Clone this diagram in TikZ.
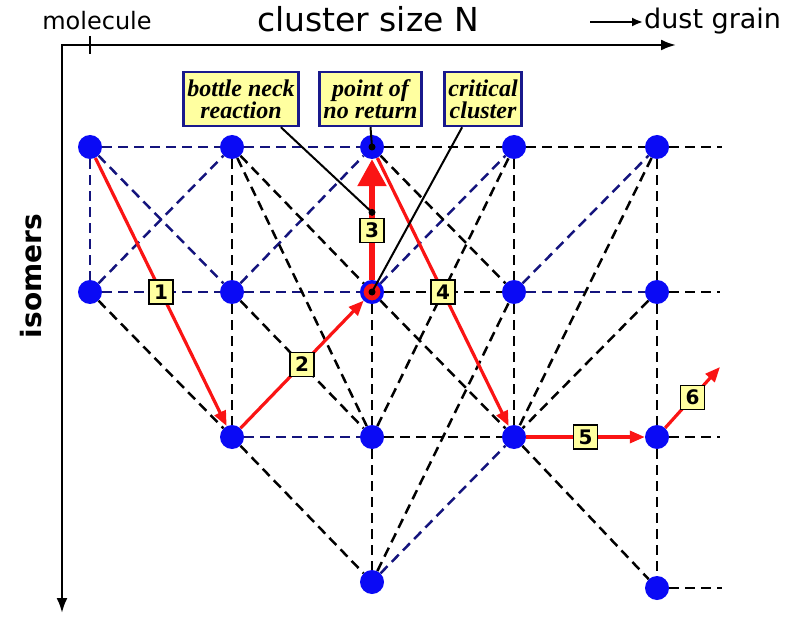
\documentclass[tikz,border=0pt]{standalone}
\usepackage{fontspec}
\setmainfont{DejaVu Sans}
\newfontfamily\notefont{Liberation Serif}
\usetikzlibrary{arrows.meta}
\definecolor{clusterblue}{RGB}{10,10,245}
\definecolor{navy}{RGB}{20,20,125}
\definecolor{notefill}{RGB}{255,255,160}
\definecolor{noteedge}{RGB}{25,25,140}
\definecolor{pathred}{RGB}{250,20,20}
\tikzset{
  cluster/.style={circle, fill=clusterblue, minimum size=24pt, inner sep=0pt},
  critcluster/.style={circle, fill=pathred, draw=clusterblue, line width=3.5pt,
    minimum size=20.5pt, inner sep=0pt},
  navybond/.style={navy, line width=2.5pt, dash pattern=on 10pt off 6pt},
  blackbond/.style={black, line width=2.5pt, dash pattern=on 10pt off 6pt},
  growth/.style={pathred, line width=3.2pt, -{Triangle[length=15pt, width=12pt]}},
  steplabel/.style={draw=black, fill=notefill, text=black, line width=1.6pt, minimum size=24pt,
    inner sep=0pt, font=\bfseries\fontsize{20}{20}\selectfont},
  notebox/.style={draw=noteedge, fill=notefill, line width=2.4pt, align=center,
    minimum height=54pt, inner xsep=4pt, font=\notefont\bfseries\itshape\fontsize{24}{22}\selectfont},
  pointer/.style={black, line width=2pt},
  hubdot/.style={circle, fill=black, inner sep=0pt, minimum size=7pt},
  axislabel/.style={inner sep=1pt, font=\fontsize{24}{24}\selectfont}
}

\begin{document}
\begin{tikzpicture}[x=1pt, y=-1pt]
\useasboundingbox (0,0) rectangle (786,617);

% axes
\coordinate (corner) at (62,45);
\coordinate (xtip) at (676,45);
\coordinate (ytip) at (62,613);
\draw[line width=2.4pt, {Latex[length=15pt,width=11pt]}-{Latex[length=15pt,width=11pt]}] (ytip) |- (xtip);
\draw[line width=2pt] (90,36) -- (90,54);
\node[axislabel, anchor=base] (mol) at (97,30) {molecule};
\node[axislabel, anchor=base, font=\fontsize{33}{33}\selectfont] (size) at (368,32) {cluster size N};
\node[axislabel, anchor=base west, font=\fontsize{27}{27}\selectfont] (grain) at (643,29) {dust grain};
\coordinate (grainfrom) at (590,22);
\draw[line width=2pt, -{Latex[length=11pt,width=9pt]}] (grainfrom) -- (grainfrom -| grain.west);
\node[anchor=base, rotate=90, font=\bfseries\fontsize{28}{28}\selectfont] (iso) at (41,276) {isomers};

% clusters
\node[cluster] (a0) at (90,147) {};
\node[cluster] (b0) at (232,147) {};
\node[cluster] (c0) at (372,147) {};
\node[cluster] (d0) at (514,147) {};
\node[cluster] (e0) at (657,147) {};
\node[cluster] (a1) at (90,292) {};
\node[cluster] (b1) at (232,292) {};
\node[critcluster] (c1) at (372,292) {};
\node[cluster] (d1) at (514,292) {};
\node[cluster] (e1) at (657,292) {};
\node[cluster] (b2) at (232,437) {};
\node[cluster] (c2) at (372,437) {};
\node[cluster] (d2) at (514,437) {};
\node[cluster] (e2) at (657,437) {};
\node[cluster] (c3) at (372,582) {};
\node[cluster] (e3) at (657,588) {};
\coordinate (e0end) at (722,147);
\coordinate (e1end) at (720,292);
\coordinate (e2end) at (720,437);
\coordinate (e3end) at (722,588);
\coordinate (sixend) at (720,367);

% bonds
\draw[navybond] (a0) -- (b0);
\draw[navybond] (b0) -- (c0);
\draw[blackbond] (c0) -- (d0);
\draw[blackbond] (d0) -- (e0);
\draw[blackbond] (e0) -- (e0end);
\draw[navybond] (a1) -- (b1);
\draw[navybond] (b1) -- (c1);
\draw[blackbond] (c1) -- (d1);
\draw[navybond] (d1) -- (e1);
\draw[blackbond] (e1) -- (e1end);
\draw[navybond] (b2) -- (c2);
\draw[blackbond] (c2) -- (d2);
\draw[blackbond] (e2) -- (e2end);
\draw[blackbond] (e3) -- (e3end);
\draw[navybond] (a0) -- (a1);
\draw[blackbond] (b0) -- (b1);
\draw[blackbond] (b1) -- (b2);
\draw[blackbond] (c1) -- (c2);
\draw[blackbond] (c2) -- (c3);
\draw[blackbond] (d0) -- (d1);
\draw[blackbond] (d1) -- (d2);
\draw[blackbond] (e0) -- (e1);
\draw[blackbond] (e1) -- (e2);
\draw[blackbond] (e2) -- (e3);
\draw[navybond] (a0) -- (b1);
\draw[navybond] (a1) -- (b0);
\draw[navybond] (b1) -- (c0);
\draw[navybond] (c1) -- (d0);
\draw[navybond] (d1) -- (e0);
\draw[navybond] (c3) -- (d2);
\draw[blackbond] (b0) -- (c1);
\draw[blackbond] (b0) -- (c2);
\draw[blackbond] (b1) -- (c2);
\draw[blackbond] (a1) -- (b2);
\draw[blackbond] (b2) -- (c3);
\draw[blackbond] (c0) -- (d1);
\draw[blackbond] (c1) -- (d2);
\draw[blackbond] (c2) -- (d0);
\draw[blackbond] (c3) -- (d1);
\draw[blackbond] (e0) -- (d2);
\draw[blackbond] (e1) -- (d2);
\draw[blackbond] (d2) -- (e3);

% growth path
\draw[growth] (a0) -- node[steplabel] (s1) {1} (b2);
\draw[growth] (b2) -- node[steplabel] (s2) {2} (c1);
\draw[pathred, line width=5.5pt, -{Triangle[length=27pt, width=28pt]}] (c1) --
  node[pos=0.56, coordinate] (neckpt) {} node[steplabel, pos=0.41] (s3) {3} (c0);
\draw[growth] (c0) -- node[steplabel] (s4) {4} (d2);
\draw[growth] (d2) -- node[steplabel] (s5) {5} (e2);
\draw[growth] (e2) -- node[steplabel] (s6) {6} (sixend);

% notes
\node[notebox] (neck) at (241,99) {bottle neck\\reaction};
\node[notebox] (noreturn) at (370.5,99) {point of\\no return};
\node[notebox] (critical) at (483,99) {critical\\cluster};
\draw[pointer] ([xshift=-19pt]neck.south east) -- (neckpt);
\draw[pointer] (noreturn.south) -- (c0.center);
\draw[pointer] ([xshift=19pt]critical.south west) -- (c1.center);
\node[hubdot] (neckdot) at (neckpt) {};
\node[hubdot] (c0dot) at (c0.center) {};
\node[hubdot] (c1dot) at (c1.center) {};
\end{tikzpicture}
\end{document}
